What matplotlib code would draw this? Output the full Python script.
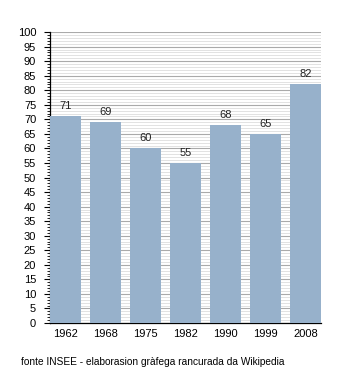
import numpy as np
import matplotlib.pyplot as plt
from matplotlib.ticker import MultipleLocator

plt.rcParams['font.family'] = ['Liberation Sans', 'DejaVu Sans']

years = ['1962', '1968', '1975', '1982', '1990', '1999', '2008']
population = [71, 69, 60, 55, 68, 65, 82]

fig = plt.figure(figsize=(3.5, 3.73), dpi=100)
ax = fig.add_axes([0.143, 0.134, 0.774, 0.78])

x = np.arange(len(years))
ax.bar(x, population, width=0.78, color='#97b1cb', zorder=3)
for xi, v in zip(x, population):
    ax.text(xi, v + 1.8, str(v), ha='center', va='bottom', fontsize=8, color='#222222')

ax.set_xlim(-0.39, len(years) - 0.61)
ax.set_ylim(0, 100)
ax.set_xticks(x)
ax.set_xticklabels(years, fontsize=8)
ax.yaxis.set_major_locator(MultipleLocator(5))
ax.yaxis.set_minor_locator(MultipleLocator(1))
ax.tick_params(axis='y', labelsize=8, length=4, width=0.8, pad=6)
ax.tick_params(axis='y', which='minor', length=2, width=0.6)
ax.tick_params(axis='x', length=0, pad=4)

ax.grid(axis='y', which='major', color='#aaaaaa', lw=0.8, zorder=0)
ax.grid(axis='y', which='minor', color='#dddddd', lw=0.6, zorder=0)
ax.set_axisbelow(True)

for s in ['top', 'right']:
    ax.spines[s].set_visible(False)
ax.spines['left'].set_linewidth(0.9)
ax.spines['bottom'].set_linewidth(0.9)

fig.text(0.06, 0.022, 'fonte INSEE - elaborasion gràfega rancurada da Wikipedia', fontsize=7.3)

fig.savefig('out.png', dpi=100)
